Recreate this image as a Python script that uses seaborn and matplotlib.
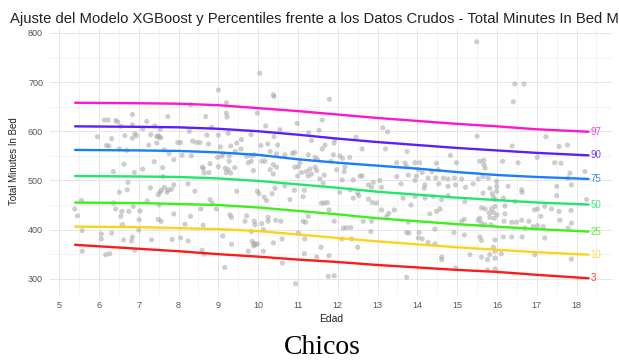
import matplotlib
matplotlib.use("Agg")
import matplotlib.pyplot as plt
import seaborn as sns
import pandas as pd
import numpy as np

# raw data points (edad, total minutes in bed)
edad_pts = [
    9.0, 9.2, 8.3, 9.2, 9.22, 6.84, 6.13, 6.23, 6.42, 6.47, 7.73, 8.68, 7.2, 6.84, 6.55, 7.4, 7.1, 7.54,
    8.27, 8.83, 5.96, 6.32, 6.65, 6.9, 6.94, 6.84, 7.3, 7.45, 7.51, 7.49, 7.55, 9.0, 9.25, 8.71, 6.19,
    6.25, 7.25, 7.45, 7.98, 8.05, 8.35, 8.45, 8.54, 8.75, 9.05, 9.31, 9.46, 6.51, 6.7, 7.64, 7.76, 8.09,
    7.88, 6.63, 7.39, 8.32, 8.98, 9.08, 9.12, 9.27, 9.27, 9.42,
    7.6, 7.1, 6.89, 6.36, 8.6, 8.62, 8.79, 9.0, 8.64, 8.76, 9.17, 9.25, 9.31, 9.2, 9.41, 7.61, 6.73,
    6.71, 6.51, 7.29, 7.64, 7.53, 7.49, 7.57, 7.74, 7.82, 7.88, 7.71, 8.24, 8.41, 5.56, 5.39, 5.46,
    6.36, 6.42, 6.58, 6.75, 6.86, 7.03, 7.21, 7.51, 6.55, 7.01, 7.49, 7.56, 7.88, 8.3, 8.56, 8.79, 8.85,
    8.95, 9.29, 9.33, 8.16, 8.62, 6.59, 5.58, 6.06, 6.06, 6.32, 6.62, 6.84, 6.82, 7.0, 7.32, 7.84, 8.05,
    8.24, 9.11, 9.33, 5.58, 6.17, 6.27, 6.9, 8.59, 8.64, 9.16,
    10.04, 10.38, 10.4, 11.79, 9.98, 11.61, 10.98, 10.19, 10.55, 11.53, 11.27, 13.13, 13.25, 9.82,
    10.4, 9.58, 11.34, 11.93, 12.46, 10.07, 10.24, 10.49, 11.68, 11.61, 11.91, 12.61, 13.2, 13.74,
    9.57, 9.71, 9.82, 9.9, 10.3, 10.46, 10.67, 10.86, 10.92, 11.26, 11.43, 11.49, 11.89, 12.05,
    12.12, 12.3, 9.75, 9.83, 10.09, 10.17, 10.38, 11.05, 11.83, 13.48, 13.69, 13.94,
    10.3, 10.38, 10.46, 9.88, 10.92, 11.01, 11.09, 10.99, 11.21, 11.3, 11.34, 11.43, 11.26, 11.47,
    11.66, 11.55, 11.63, 11.97, 12.16, 12.18, 12.56, 12.61, 12.39, 12.11, 12.77, 12.89, 13.06, 12.85,
    13.1, 13.48, 13.59, 13.77, 13.98, 13.94, 13.73, 9.46, 9.98, 10.02, 10.42, 10.35, 10.15, 10.21,
    10.67, 10.91, 11.16, 11.13, 10.8, 11.59, 11.66, 11.74, 12.05, 12.31, 12.39, 12.5, 12.53, 12.77,
    12.87, 12.97, 13.64, 13.84, 11.78, 13.1, 13.28, 13.42, 9.71, 9.67, 9.9, 9.92, 10.09, 10.25, 10.25,
    10.44, 10.57, 11.26, 11.13, 11.19, 11.91, 12.64, 12.85, 13.23, 13.77, 9.83, 9.85, 9.9, 9.93, 9.98,
    9.88, 10.13, 10.38, 10.6, 11.01, 11.17, 12.14, 12.22, 12.33, 12.1, 12.35, 12.83, 13.73, 13.79,
    12.5, 11.58, 10.13, 9.75, 11.16, 11.47, 11.78, 10.61, 11.76, 11.91, 10.94, 13.73,
    15.49, 16.45, 16.68, 16.41, 15.5, 17.23, 16.38, 17.56, 17.77, 14.83, 17.01, 14.06, 14.48, 14.98,
    15.57, 15.67, 16.14, 16.53, 17.45, 17.61,
    15.7, 15.67, 14.02, 14.12, 14.36, 14.52, 14.27, 14.46, 14.65, 14.77, 14.93, 15.11, 15.4, 15.53,
    15.78, 15.65, 15.99, 15.99, 15.82, 15.99, 14.19, 14.17, 14.54, 14.77, 14.96, 15.21, 16.62, 16.63,
    16.28, 17.5, 17.83, 17.79, 17.87, 18.21, 13.94, 14.19, 14.4, 14.61, 14.77, 15.19, 15.65, 15.88,
    15.91, 15.95, 16.16, 16.45, 17.5, 17.2, 17.37, 16.94, 17.02, 17.56, 17.86, 18.25, 14.57, 14.48,
    14.31, 15.61, 15.7, 15.86, 15.95, 15.91, 15.8, 16.0, 15.93, 15.82, 16.2, 16.2, 16.18, 16.37, 16.49,
    16.8, 16.62, 17.1, 17.02, 17.16, 17.58, 17.87, 17.79, 15.18, 15.11, 15.57, 15.53, 15.61, 15.7,
    15.85, 16.7, 16.91, 14.04, 14.44, 14.92, 15.18, 14.02, 14.12, 14.27, 14.44, 15.57, 15.61, 15.95,
    16.16, 16.37, 16.63, 17.2, 15.32, 15.82, 15.91, 15.95, 16.11, 14.61, 14.61, 15.61, 15.76, 15.95,
    16.95, 17.87, 14.96, 15.76, 15.95,
]
minutos_pts = [
    684, 658, 654, 637, 629, 634, 623, 623, 622, 619, 630, 630, 620, 613, 610, 611, 605, 604,
    600, 608, 589, 585, 591, 595, 591, 586, 593, 589, 588, 591, 587, 592, 596, 592, 571,
    570, 572, 576, 577, 577, 580, 577, 577, 574, 568, 570, 576, 564, 561, 562, 555, 551,
    542, 533, 538, 550, 547, 549, 554, 539, 550, 559,
    526, 523, 516, 518, 527, 524, 534, 528, 515, 516, 525, 522, 515, 516, 526, 508, 496,
    481, 476, 485, 486, 476, 471, 480, 481, 482, 491, 476, 493, 478, 459, 442, 428,
    454, 442, 437, 437, 447, 438, 458, 450, 427, 420, 421, 417, 432, 427, 442, 461, 454,
    442, 430, 425, 411, 409, 410, 398, 391, 381, 393, 379, 385, 377, 399, 379, 380, 383,
    377, 387, 370, 356, 349, 351, 358, 358, 350, 323,
    718, 674, 671, 665, 637, 623, 616, 611, 603, 602, 597, 607, 599, 593,
    589, 583, 581, 583, 588, 571, 574, 572, 572, 564, 576, 564, 564, 559,
    564, 549, 550, 552, 559, 554, 552, 555, 557, 552, 547, 543, 552, 550,
    545, 547, 536, 539, 539, 539, 532, 536, 539, 536, 535, 536,
    522, 513, 527, 520, 527, 528, 516, 509, 518, 523, 513, 527, 509, 520,
    511, 503, 494, 522, 518, 527, 509, 509, 501, 501, 491, 496, 500, 486,
    486, 508, 493, 511, 509, 500, 528, 478, 478, 473, 484, 473, 466, 459,
    489, 480, 480, 467, 461, 454, 454, 455, 476, 481, 464, 474, 469, 462,
    455, 454, 464, 450, 440, 440, 433, 440, 428, 417, 417, 410, 412, 425, 417,
    419, 417, 427, 417, 415, 417, 417, 417, 427, 415, 396, 376, 372, 369, 371,
    367, 400, 373, 381, 393, 381, 403, 404, 404, 381, 381, 396, 394, 393,
    364, 364, 356, 356, 351, 344, 347, 332, 305, 306, 290, 303,
    782, 696, 696, 660, 590, 589, 570, 569, 572, 551, 547, 536, 535, 536,
    539, 541, 539, 536, 536, 535,
    525, 532, 522, 516, 518, 522, 505, 505, 505, 503, 505, 503, 493, 503,
    505, 508, 498, 488, 484, 478, 491, 484, 493, 488, 491, 486, 481, 476,
    488, 488, 515, 505, 491, 518, 467, 464, 467, 461, 469, 457, 474, 473,
    466, 461, 464, 457, 469, 447, 442, 440, 442, 437, 439, 461, 442, 437,
    432, 444, 442, 442, 447, 435, 434, 430, 423, 425, 448, 432, 417, 415, 415,
    417, 419, 427, 408, 406, 419, 413, 403, 421, 417, 423, 419, 413, 410,
    410, 403, 406, 394, 401, 394, 389, 383, 381, 374, 371, 385, 378, 379,
    385, 385, 385, 383, 349, 349, 364, 356, 351, 344, 339, 344, 339, 342,
    349, 340, 322, 318, 320,
]

# percentile curves of the XGBoost model
edad_curva = [5.4, 7, 8, 9, 10, 11, 12, 13, 14, 15, 16, 17, 18.3]
p3 = [369, 361, 356, 350, 345, 339, 334, 328, 323, 318, 314, 308, 301]
p10 = [406, 405, 403, 401, 397, 390, 383, 376, 370, 364, 359, 354, 349]
p25 = [455, 454, 452, 450, 445, 438, 431, 423, 417, 411, 406, 401, 396]
p50 = [509, 508, 507, 504, 499, 492, 485, 477, 471, 465, 460, 455, 451]
p75 = [562, 561, 560, 557, 552, 543, 536, 530, 524, 517, 511, 507, 503]
p90 = [610, 609, 608, 605, 600, 593, 585, 578, 572, 566, 561, 556, 551]
p97 = [658, 657, 656, 653, 647, 641, 634, 627, 621, 615, 610, 604, 599]
percentiles = ["3", "10", "25", "50", "75", "90", "97"]
colores = ["#FF1A1A", "#FFD21A", "#3CF01A", "#1EE86A", "#1A7CFF", "#5A1EFF", "#FF14D2"]

sns.set_style("white")
plt.rcParams['font.family'] = ['Liberation Sans', 'DejaVu Sans']

puntos = pd.DataFrame({"Edad": edad_pts, "Minutos": minutos_pts})
curvas = pd.concat([
    pd.DataFrame({"Edad": edad_curva, "Minutos": vals, "Percentil": p})
    for p, vals in zip(percentiles, [p3, p10, p25, p50, p75, p90, p97])
])

fig = plt.figure(figsize=(6.19, 3.60), dpi=100)
ax = fig.add_axes([0.0808, 0.1806, 0.9092, 0.7416])

sns.scatterplot(data=puntos, x="Edad", y="Minutos", ax=ax, color="#a6a6a6",
                alpha=0.55, s=14, edgecolor="none", zorder=2)
sns.lineplot(data=curvas, x="Edad", y="Minutos", hue="Percentil",
             palette=dict(zip(percentiles, colores)), hue_order=percentiles,
             ax=ax, lw=1.7, legend=False, zorder=3)

for p, vals, c in zip(percentiles, [p3, p10, p25, p50, p75, p90, p97], colores):
    ax.text(edad_curva[-1] + 0.05, vals[-1], p, color=c, fontsize=7,
            ha="left", va="center", alpha=0.85)

ax.set_xlim(4.77, 18.91)
ax.set_ylim(267, 810)
ax.set_xticks(range(5, 19))
ax.set_xticks(np.arange(5.5, 19, 1), minor=True)
ax.set_yticks(range(300, 801, 100))
ax.set_yticks(range(350, 800, 100), minor=True)
ax.grid(which="major", color="#e6e6e6", lw=0.7)
ax.grid(which="minor", color="#efefef", lw=0.5)
ax.set_axisbelow(True)
ax.tick_params(which="both", length=0, labelsize=6.5, labelcolor="#555555")
ax.tick_params(axis="x", pad=4)
ax.tick_params(axis="y", pad=5)
for s in ax.spines.values():
    s.set_visible(False)

ax.set_xlabel("Edad", fontsize=7.5, color="#222222", labelpad=3)
ax.set_ylabel("Total Minutes In Bed", fontsize=7, color="#222222")
ax.yaxis.set_label_coords(-0.055, 0.5)

fig.text(0.0162, 0.937, "Ajuste del Modelo XGBoost y Percentiles frente a los Datos Crudos - Total Minutes In Bed M",
         fontsize=10.7, color="#222222", ha="left", va="baseline")
fig.text(0.52, 0.016, "Chicos", family="Liberation Serif", fontsize=20,
         ha="center", va="baseline", color="black")

plt.savefig("out.png", dpi=100)
